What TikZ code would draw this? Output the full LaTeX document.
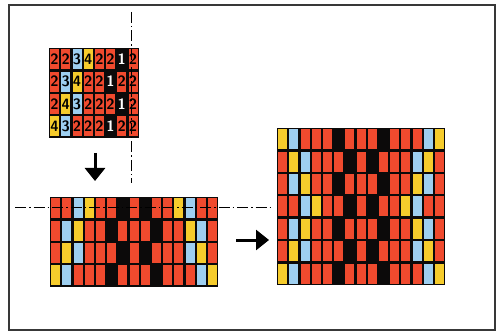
\documentclass[tikz,border=0pt]{standalone}
\usepackage{tikz}
\usetikzlibrary{arrows.meta}

\definecolor{c1}{HTML}{0C0A0A}
\definecolor{c2}{HTML}{F04A2E}
\definecolor{c3}{HTML}{9ECFF0}
\definecolor{c4}{HTML}{F6CC2C}
\colorlet{d1}{white}
\colorlet{d2}{black}
\colorlet{d3}{black}
\colorlet{d4}{black}
\definecolor{framegray}{HTML}{383838}

\begin{document}
\begin{tikzpicture}[
    x=1pt, y=-1pt,
    gridbg/.style={fill=c1},
    cell/.style={fill=c#1},
    digit/.style={font=\sffamily\bfseries\fontsize{15}{15}\selectfont, inner sep=0pt, text=d#1},
    axisline/.style={line width=1pt, dash pattern=on 11pt off 3pt on 1.5pt off 3pt},
    bigarrow/.style={line width=3pt, -{Triangle[length=13pt,width=20pt]}}
]
\useasboundingbox (0,0) rectangle (501,334);
\def\cw{11.2}
\def\ch{22.4}

% Frame
\draw[framegray, line width=1.8pt] (9,5) rectangle (495,330);

% Small grid with thread numbers
\fill[gridbg] (49,48) rectangle ++({8*\cw},{4*\ch});
\foreach \row [count=\r] in {{2,2,3,4,2,2,1,2},{2,3,4,2,2,1,2,2},{2,4,3,2,2,2,1,2},{4,3,2,2,2,1,2,2}}{
  \foreach \v [count=\c] in \row {
    \fill[cell=\v] ({49+(\c-1)*\cw+1.1},{48+(\r-1)*\ch+1.2}) rectangle ++({\cw-2.2},{\ch-2.4});
    \node[digit=\v] (s-\r-\c) at ({49+(\c-0.5)*\cw},{48+(\r-0.5)*\ch}) {\v};
  }
}

% Middle grid, mirrored left to right
\fill[gridbg] (50,197) rectangle ++({15*\cw},{4*\ch});
\foreach \row [count=\r] in {{2,2,3,4,2,2,1,2,1,2,2,4,3,2,2},{2,3,4,2,2,1,2,2,2,1,2,2,4,3,2},{2,4,3,2,2,2,1,2,1,2,2,2,3,4,2},{4,3,2,2,2,1,2,2,2,1,2,2,2,3,4}}{
  \foreach \v [count=\c] in \row {
    \fill[cell=\v] ({50+(\c-1)*\cw+1.1},{197+(\r-1)*\ch+1.2}) rectangle ++({\cw-2.2},{\ch-2.4});
  }
}

% Right grid, mirrored top to bottom
\fill[gridbg] (277,128) rectangle ++({15*\cw},{7*\ch});
\foreach \row [count=\r] in {{4,3,2,2,2,1,2,2,2,1,2,2,2,3,4},{2,4,3,2,2,2,1,2,1,2,2,2,3,4,2},{2,3,4,2,2,1,2,2,2,1,2,2,4,3,2},{2,2,3,4,2,2,1,2,1,2,2,4,3,2,2},{2,3,4,2,2,1,2,2,2,1,2,2,4,3,2},{2,4,3,2,2,2,1,2,1,2,2,2,3,4,2},{4,3,2,2,2,1,2,2,2,1,2,2,2,3,4}}{
  \foreach \v [count=\c] in \row {
    \fill[cell=\v] ({277+(\c-1)*\cw+1.1},{128+(\r-1)*\ch+1.2}) rectangle ++({\cw-2.2},{\ch-2.4});
  }
}

% Mirror axes
\coordinate (vtop) at (131,12);
\coordinate (vbot) at (131,183);
\coordinate (hleft) at (15,208);
\coordinate (hright) at (270,208);
\draw[axisline] (vtop) -- (vbot);
\draw[axisline] (hleft) -- (hright);

% Arrows
\coordinate (downA) at (95,153);
\coordinate (downB) at (95,181);
\coordinate (rightA) at (236,240);
\coordinate (rightB) at (269,240);
\draw[bigarrow] (downA) -- (downB);
\draw[bigarrow] (rightA) -- (rightB);
\end{tikzpicture}
\end{document}
